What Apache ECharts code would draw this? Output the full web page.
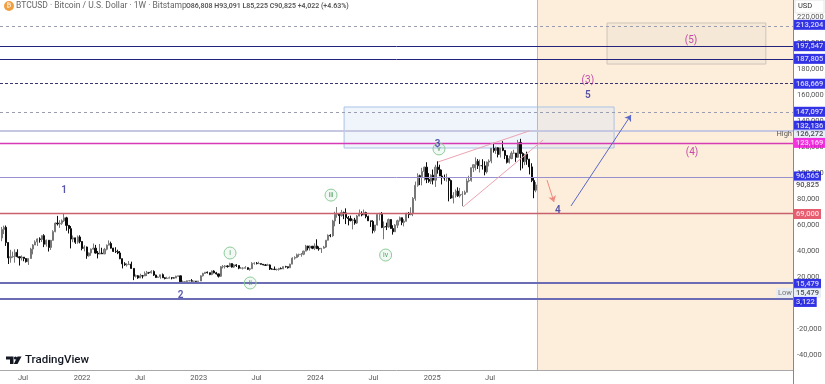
<!DOCTYPE html>
<html>
<head>
<meta charset="utf-8">
<title>BTCUSD</title>
<script src="https://cdn.jsdelivr.net/npm/echarts@6/dist/echarts.min.js"></script>
<style>
  html, body { margin: 0; padding: 0; background: #fff; }
  #main { width: 825px; height: 384px; }
</style>
</head>
<body>
<div id="main"></div>
<script>
// weekly bars, values in thousands of USD, first bar is the week of 2021-04-12
const firstWeek = '2021-04-12';
const opens = [
  60.0,60.0,50.0,56.6,58.2,46.5,34.7,35.6,35.8,39.0,35.6,34.7,35.3,34.2,31.8,34.2,41.5,44.6,47.0,49.3,48.9,51.8,45.2,48.3,42.7,48.2,54.9,61.5,60.9,61.3,63.2,65.5,59.7,57.2,49.2,50.1,46.8,50.8,
  47.3,41.9,43.1,36.3,38.5,41.4,42.2,38.4,37.7,38.4,37.8,41.3,44.5,45.8,42.2,39.7,39.5,38.5,34.1,30.1,29.4,29.5,29.9,26.6,20.6,21.0,19.3,20.9,20.8,22.6,23.6,23.2,24.3,21.5,19.6,20.0,21.8,19.4,18.8,19.1,19.4,19.3,19.2,20.6,20.9,16.3,16.3,16.4,17.1,17.1,16.8,16.8,
  16.6,16.9,20.9,22.7,23.7,23.3,21.9,24.6,23.2,22.4,20.6,27.9,28.0,28.5,28.0,30.3,27.6,29.3,28.8,26.8,26.8,26.8,27.2,25.9,26.3,30.5,30.6,30.3,30.3,29.8,29.3,29.0,29.3,26.1,26.0,25.8,25.8,26.5,26.3,28.0,27.9,27.1,29.9,34.5,35.0,37.1,37.4,37.5,39.9,43.8,42.3,43.7,
  42.1,43.9,41.8,41.6,42.1,43.0,48.3,52.1,51.7,63.1,68.3,68.4,67.2,69.6,69.3,65.7,64.9,63.4,63.9,61.5,66.9,68.5,67.7,69.6,66.6,63.2,62.7,55.8,60.0,68.1,68.2,58.1,58.8,58.5,64.2,57.3,54.8,59.9,63.3,65.6,62.0,62.9,69.0,68.0,68.8,80.4,90.5,97.9,97.2,101.2,104.5,95.2,93.7,
  98.3,94.5,104.5,102.6,97.7,96.5,96.1,96.3,94.2,80.7,82.6,86.1,82.4,83.5,83.7,85.2,93.8,94.3,104.1,106.4,109.0,105.6,105.7,105.5,100.9,108.4,109.2,119.0,117.3,119.4,114.2,119.3,117.4,113.5,108.2,111.1,115.3,115.3,112.1,123.5,115.0,108.7,114.5,110.6,104.7,94.3,86.8
];
const highs = [
  64.8,61.0,58.5,59.5,59.6,46.7,40.9,39.5,41.3,41.3,35.7,36.6,35.3,34.6,34.5,42.5,45.3,48.2,49.7,50.5,52.0,52.9,48.8,48.3,48.5,56.0,62.0,67.0,63.7,64.3,69.0,66.3,59.9,59.2,51.9,50.2,51.9,52.1,
  47.5,44.4,43.4,38.9,41.9,45.8,44.7,40.0,45.4,42.5,42.4,45.0,48.2,47.2,42.4,42.9,41.0,40.0,34.2,31.4,30.6,32.3,31.8,26.8,21.9,21.5,22.5,21.6,24.2,24.7,23.6,25.2,25.1,21.8,20.6,21.8,22.7,19.9,20.2,20.4,19.9,19.7,21.0,21.0,21.0,17.2,16.9,17.3,17.4,18.4,17.0,16.9,
  17.0,21.3,23.3,23.8,24.2,23.4,25.0,25.2,23.9,22.6,28.4,29.2,29.2,29.0,31.0,30.5,30.0,29.9,29.0,27.7,27.5,28.4,27.4,26.8,31.4,31.3,31.5,31.8,30.4,30.0,30.0,30.2,29.7,26.8,28.1,26.4,27.0,27.4,28.1,28.6,28.0,30.2,35.2,35.9,38.0,37.9,38.4,40.2,44.7,44.0,44.3,43.8,
  45.9,49.0,43.5,42.2,43.9,48.3,52.8,52.9,64.0,70.2,73.8,68.9,71.6,70.3,72.8,66.9,67.2,64.7,65.5,67.7,71.9,70.5,71.9,70.2,67.2,63.3,63.7,60.0,68.4,69.4,70.0,62.7,61.8,65.0,64.5,59.8,60.7,64.1,66.5,65.7,64.5,69.4,70.0,73.6,81.5,93.4,99.8,98.7,104.0,105.0,108.3,99.9,99.0,
  102.7,106.3,109.0,106.4,102.5,98.8,99.5,96.5,95.0,85.3,87.4,89.0,88.5,86.0,86.5,95.8,97.9,104.1,106.4,112.0,110.7,110.4,110.6,109.0,108.8,110.5,119.0,123.2,120.2,119.8,119.3,124.5,117.6,113.6,113.4,116.7,117.9,115.4,125.5,126.3,115.9,114.5,116.4,110.9,107.5,96.6,93.1
];
const lows = [
  59.0,47.0,47.5,53.0,43.9,30.0,31.0,34.8,31.0,35.0,28.8,32.7,32.1,31.1,29.3,34.2,37.4,44.6,43.9,46.4,46.9,43.0,43.4,39.6,40.8,48.0,54.4,59.6,57.8,60.1,62.3,55.6,53.5,42.0,46.8,45.5,45.6,45.9,
  40.5,39.7,34.0,35.6,36.3,41.2,38.0,34.3,37.4,37.8,37.6,40.5,44.4,41.9,39.2,38.5,37.6,33.7,26.6,28.6,28.0,29.3,26.9,17.6,19.6,18.6,19.1,18.9,20.7,20.7,22.4,22.7,20.8,19.8,19.6,18.6,19.4,18.2,18.5,19.0,18.2,18.9,19.2,20.1,15.6,16.3,15.5,16.0,16.7,16.5,16.4,16.3,
  16.5,16.9,20.4,22.3,22.7,21.4,21.4,22.8,21.9,19.6,20.0,26.6,26.5,27.2,28.0,27.2,27.0,27.7,26.0,26.4,25.8,26.5,25.4,24.8,26.3,29.5,29.7,30.0,29.5,29.0,28.6,28.7,25.4,25.8,25.3,24.9,24.9,26.0,26.0,27.2,26.5,27.1,29.9,33.4,34.5,35.5,35.6,36.8,39.9,40.5,40.3,41.4,
  40.7,41.5,40.2,38.5,41.9,42.3,48.1,50.6,50.9,59.0,65.6,60.8,66.4,64.5,60.7,59.7,62.8,56.6,60.2,60.8,66.7,66.7,67.6,65.2,63.2,58.5,53.5,54.3,59.6,63.5,57.6,49.0,56.1,57.9,57.2,52.6,54.6,57.6,62.7,59.9,58.9,62.6,65.3,67.5,66.8,78.7,89.4,90.7,90.5,94.2,92.2,92.5,91.5,
  91.2,89.3,99.5,97.7,91.2,94.1,93.4,78.2,80.0,76.6,81.1,81.6,81.1,74.5,83.1,85.1,92.8,93.3,100.7,102.0,103.1,100.4,102.6,98.2,99.6,105.1,107.5,115.7,114.7,112.0,111.9,116.8,110.7,107.3,107.3,110.6,114.8,108.6,111.6,102.0,103.5,106.0,106.3,98.9,93.0,80.6,85.2
];
const closes = [
  60.0,50.0,56.6,58.2,46.5,34.7,35.6,35.8,39.0,35.6,34.7,35.3,34.2,31.8,34.2,41.5,44.6,47.0,49.3,48.9,51.8,45.2,48.3,42.7,48.2,54.9,61.5,60.9,61.3,63.2,65.5,59.7,57.2,49.2,50.1,46.8,50.8,47.3,
  41.9,43.1,36.3,38.5,41.4,42.2,38.4,37.7,38.4,37.8,41.3,44.5,45.8,42.2,39.7,39.5,38.5,34.1,30.1,29.4,29.5,29.9,26.6,20.6,21.0,19.3,20.9,20.8,22.6,23.6,23.2,24.3,21.5,19.6,20.0,21.8,19.4,18.8,19.1,19.4,19.3,19.2,20.6,20.9,16.3,16.3,16.4,17.1,17.1,16.8,16.8,16.6,
  16.9,20.9,22.7,23.7,23.3,21.9,24.6,23.2,22.4,20.6,27.9,28.0,28.5,28.0,30.3,27.6,29.3,28.8,26.8,26.8,26.8,27.2,25.9,26.3,30.5,30.6,30.3,30.3,29.8,29.3,29.0,29.3,26.1,26.0,25.8,25.8,26.5,26.3,28.0,27.9,27.1,29.9,34.5,35.0,37.1,37.4,37.5,39.9,43.8,42.3,43.7,42.1,
  43.9,41.8,41.6,42.1,43.0,48.3,52.1,51.7,63.1,68.3,68.4,67.2,69.6,69.3,65.7,64.9,63.4,63.9,61.5,66.9,68.5,67.7,69.6,66.6,63.2,62.7,55.8,60.0,68.1,68.2,58.1,58.8,58.5,64.2,57.3,54.8,59.9,63.3,65.6,62.0,62.9,69.0,68.0,68.8,80.4,90.5,97.9,97.2,101.2,104.5,95.2,93.7,98.3,
  94.5,104.5,102.6,97.7,96.5,96.1,96.3,94.2,80.7,82.6,86.1,82.4,83.5,83.7,85.2,93.8,94.3,104.1,106.4,109.0,105.6,105.7,105.5,100.9,108.4,109.2,119.0,117.3,119.4,114.2,119.3,117.4,113.5,108.2,111.1,115.3,115.3,112.1,123.5,115.0,108.7,114.5,110.6,104.7,94.3,86.8,90.8
];

// drawn price levels
const navyLevels = [197547, 187805];
const darkDashLevels = [168669];
const lightDashLevels = [213204, 147097];
const paleLevels = [132136];
const magentaLevels = [123169];
const lilacLevels = [96565];
const redLevels = [69000];
const blueLevels = [15479, 3122];

// price tags on the right scale
const tagValues = [213204, 197547, 187805, 168669, 147097, 132136, 126272, 123169, 96565, 90825, 69000, 15479, 15479, 3122];
const tagKinds = ['blue', 'blue', 'blue', 'blue', 'blue', 'blue', 'pale', 'pink', 'blue', 'last', 'red', 'blue', 'pale', 'blue'];

// axis ticks
const priceTicks = [220000, 200000, 180000, 160000, 140000, 120000, 100000, 80000, 60000, 40000, 20000, 0, -20000, -40000];
const timeTickDates = ['2021-07-02', '2022-01-03', '2022-07-03', '2023-01-03', '2023-07-03', '2024-01-03', '2024-07-03', '2025-01-03', '2025-07-03'];
const timeTickLabels = ['Jul', '2022', 'Jul', '2023', 'Jul', '2024', 'Jul', '2025', 'Jul'];

// elliott wave labels
const waveLabels = ['1', '2', '3', '4', '5'];
const waveDates = ['2021-11-08', '2022-11-07', '2025-01-20', '2026-01-31', '2026-05-05'];
const wavePrices = [86900, 6150, 122300, 70800, 160000];
const bigWaveLabels = ['(3)', '(4)', '(5)'];
const bigWaveDates = ['2026-05-05', '2027-03-27', '2027-03-24'];
const bigWavePrices = [171500, 116000, 202300];
const minorLabels = ['i', 'ii', 'iii', 'iv', 'v'];
const minorDates = ['2023-04-11', '2023-06-13', '2024-02-21', '2024-08-10', '2025-01-24'];
const minorPrices = [38460, 15400, 83000, 36900, 118500];

// zones and trend lines: [date, price]
const forecastStart = '2025-11-27';
const targetBoxA = [['2024-04-02', 150770], ['2026-07-26', 119230]];
const targetBoxB = [['2026-07-04', 215400], ['2027-11-13', 183800]];
const wedgeTop = [['2025-01-21', 108460], ['2025-11-02', 132300]];
const wedgeBottom = [['2025-04-09', 73850], ['2025-12-16', 125400]];
const arrowDown = [['2025-12-28', 94600], ['2026-01-19', 77700]];
const arrowUp = [['2026-03-13', 74600], ['2026-09-17', 144600]];

function ms(d) { return +new Date(d); }
function pt(p) { return [ms(p[0]), p[1]]; }

const xMin = ms('2021-04-21');
const xMax = ms('2028-02-06');
const yMin = -51538;
const yMax = 233077;

const weekMs = 7 * 24 * 3600 * 1000;
const startMs = ms(firstWeek);
const candles = closes.map(function (c, i) {
  return [startMs + i * weekMs, opens[i] * 1000, c * 1000, lows[i] * 1000, highs[i] * 1000];
});
const timeTickMs = timeTickDates.map(ms);

const numFont = 'Roboto, "Liberation Sans", sans-serif';

function levelSeries(name, values, color, width, type) {
  return {
    name: name,
    type: 'line',
    data: [],
    z: 3,
    silent: true,
    markLine: {
      silent: true,
      animation: false,
      symbol: 'none',
      label: { show: false },
      data: values.map(function (v) {
        return { yAxis: v, lineStyle: { color: color, width: width, type: type } };
      })
    }
  };
}

function trendLine(pts, color, arrow) {
  return [
    { coord: pt(pts[0]), symbol: 'none', lineStyle: { color: color, width: 1, type: 'solid' } },
    { coord: pt(pts[1]), symbol: arrow ? 'arrow' : 'none', symbolSize: 6 }
  ];
}

const tagStyles = {
  blue: { backgroundColor: '#0000e0', color: '#fff' },
  pink: { backgroundColor: '#f000d8', color: '#fff' },
  red: { backgroundColor: '#e0344c', color: '#fff' },
  pale: { backgroundColor: '#e4ebf7', color: '#222' },
  last: { backgroundColor: '#fff', color: '#222' }
};
const tagOffsets = [-1, 0, 0, 0, 0, -5.5, -4.3, 0, -1, 0.6, 0.7, 1, 10, 3];

const option = {
  animation: false,
  grid: { left: 0, top: 0, width: 793, height: 370, containLabel: false, outerBoundsMode: 'none' },
  xAxis: {
    type: 'value',
    min: xMin,
    max: xMax,
    scale: true,
    splitLine: { show: false },
    axisLine: { show: true, onZero: false, lineStyle: { color: '#a8a8a8' } },
    axisTick: { show: false },
    axisLabel: {
      customValues: timeTickMs,
      color: '#555',
      fontSize: 7.5,
      fontFamily: numFont,
      margin: 4,
      formatter: function (v) { return timeTickLabels[timeTickMs.indexOf(v)] || ''; }
    }
  },
  yAxis: {
    type: 'value',
    position: 'right',
    min: yMin,
    max: yMax,
    scale: true,
    splitLine: { show: false },
    axisLine: { show: true, onZero: false, lineStyle: { color: '#888' } },
    axisTick: { show: false },
    axisLabel: {
      customValues: priceTicks,
      color: '#555',
      fontSize: 7.5,
      fontFamily: numFont,
      margin: 4,
      formatter: function (v) { return v.toLocaleString('en-US'); }
    }
  },
  series: [
    {
      name: 'zones',
      type: 'line',
      data: [],
      z: 1,
      silent: true,
      markArea: {
        silent: true,
        animation: false,
        data: [
          [
            { xAxis: ms(forecastStart), yAxis: yMin, itemStyle: { color: '#fdeedb', borderWidth: 0 } },
            { xAxis: xMax, yAxis: yMax }
          ],
          [
            { coord: pt(targetBoxA[0]), itemStyle: { color: 'rgba(214,228,248,0.36)', borderColor: '#a9c3e6', borderWidth: 1 } },
            { coord: pt(targetBoxA[1]) }
          ],
          [
            { coord: pt(targetBoxB[0]), itemStyle: { color: 'rgba(150,160,180,0.08)', borderColor: '#cfc4b8', borderWidth: 1 } },
            { coord: pt(targetBoxB[1]) }
          ]
        ]
      }
    },
    {
      name: 'forecast edge',
      type: 'line',
      data: [],
      z: 1,
      silent: true,
      markLine: {
        silent: true,
        animation: false,
        symbol: 'none',
        label: { show: false },
        lineStyle: { color: '#f0b060', width: 1, type: 'solid' },
        data: [{ xAxis: ms(forecastStart) }]
      }
    },
    {
      name: 'BTCUSD',
      type: 'candlestick',
      barWidth: 1.6,
      z: 2,
      itemStyle: {
        color: '#8e8e8e',
        borderColor: '#777',
        color0: '#0c0c0c',
        borderColor0: '#0c0c0c',
        borderWidth: 1
      },
      data: candles
    },
    levelSeries('level a', navyLevels, '#23237e', 1, 'solid'),
    levelSeries('level b', darkDashLevels, '#3a3470', 1, [3, 2]),
    levelSeries('level c', lightDashLevels, '#9a9cb0', 1, [3, 3]),
    levelSeries('level d', paleLevels, '#c6c8e2', 2, 'solid'),
    levelSeries('level e', magentaLevels, '#d63ab4', 1.3, 'solid'),
    levelSeries('level f', lilacLevels, '#9a90d0', 1, 'solid'),
    levelSeries('level g', redLevels, '#c8606e', 1.3, 'solid'),
    levelSeries('level h', blueLevels, '#6c6cb4', 2, 'solid'),
    {
      name: 'trend lines',
      type: 'line',
      data: [],
      z: 4,
      silent: true,
      markLine: {
        silent: true,
        animation: false,
        label: { show: false },
        data: [
          trendLine(wedgeTop, '#eaa3b0', false),
          trendLine(wedgeBottom, '#eaa3b0', false),
          trendLine(arrowDown, '#ee8a80', true),
          trendLine(arrowUp, '#5a68cc', true)
        ]
      }
    },
    {
      name: 'waves',
      type: 'scatter',
      symbolSize: 0,
      z: 5,
      silent: true,
      label: {
        show: true,
        position: 'inside',
        color: '#2a2a9a',
        fontSize: 10,
        fontWeight: 600,
        fontFamily: numFont,
        formatter: function (p) { return waveLabels[p.dataIndex]; }
      },
      data: waveDates.map(function (d, i) { return [ms(d), wavePrices[i]]; })
    },
    {
      name: 'big waves',
      type: 'scatter',
      symbolSize: 0,
      z: 5,
      silent: true,
      label: {
        show: true,
        position: 'inside',
        color: '#b8209c',
        fontSize: 10,
        fontFamily: numFont,
        formatter: function (p) { return bigWaveLabels[p.dataIndex]; }
      },
      data: bigWaveDates.map(function (d, i) { return [ms(d), bigWavePrices[i]]; })
    },
    {
      name: 'minor waves',
      type: 'scatter',
      symbolSize: 12,
      z: 5,
      silent: true,
      itemStyle: { color: 'rgba(90,180,110,0.08)', borderColor: '#8ccb98', borderWidth: 1, opacity: 1 },
      label: {
        show: true,
        position: 'inside',
        color: '#4d9f60',
        fontSize: 7,
        fontFamily: numFont,
        formatter: function (p) { return minorLabels[p.dataIndex]; }
      },
      data: minorDates.map(function (d, i) { return [ms(d), minorPrices[i]]; })
    },
    {
      name: 'price tags',
      type: 'scatter',
      symbolSize: 0,
      z: 6,
      silent: true,
      clip: false,
      data: tagValues.map(function (v, i) {
        return {
          value: [xMax, v],
          label: Object.assign({
            show: true,
            position: 'right',
            distance: 1,
            offset: [0, tagOffsets[i]],
            padding: [1, 2, 1, 2],
            fontSize: 7.5,
            fontWeight: 500,
            fontFamily: numFont,
            formatter: v.toLocaleString('en-US')
          }, tagStyles[tagKinds[i]])
        };
      })
    },
    {
      name: 'high low',
      type: 'scatter',
      symbolSize: 0,
      z: 6,
      silent: true,
      clip: false,
      data: [
        {
          value: [xMax, 126272],
          label: {
            show: true, position: 'left', distance: 0, offset: [0, -4.3],
            formatter: 'High', fontSize: 7.5, fontFamily: numFont, color: '#333', padding: [1, 1, 1, 2]
          }
        },
        {
          value: [xMax, 15479],
          label: {
            show: true, position: 'left', distance: 0, offset: [0, 10],
            formatter: 'Low', fontSize: 7.5, fontFamily: numFont, color: '#555',
            backgroundColor: '#e4ebf7', padding: [1, 1, 1, 2]
          }
        }
      ]
    }
  ],
  graphic: [
    { type: 'line', z: 10, silent: true, shape: { x1: 793.5, y1: 370, x2: 793.5, y2: 384 }, style: { stroke: '#888' } },
    { type: 'rect', z: 10, silent: true, shape: { x: 795, y: 0, width: 29, height: 13 }, style: { fill: '#fff', stroke: '#e6e6e6' } },
    { type: 'text', z: 11, silent: true, style: { x: 798, y: 2.5, text: 'USD', fontSize: 7.5, fontFamily: numFont, fill: '#333' } },
    // header
    { type: 'circle', z: 10, silent: true, shape: { cx: 9, cy: 6, r: 5 }, style: { fill: '#f0a040' } },
    { type: 'text', z: 11, silent: true, style: { x: 6.5, y: 2, text: '₿', fontSize: 7, fontFamily: 'DejaVu Sans', fill: '#fff' } },
    { type: 'text', z: 11, silent: true, style: { x: 16, y: 1.5, text: 'BTCUSD · Bitcoin / U.S. Dollar · 1W · Bitstamp', fontSize: 8.5, fontFamily: numFont, fill: '#666' } },
    { type: 'text', z: 11, silent: true, style: { x: 186, y: 2.5, text: 'O86,808 H93,091 L85,225 C90,825 +4,022 (+4.63%)', fontSize: 7, fontWeight: 600, fontFamily: numFont, fill: '#555' } },
    // logo
    { type: 'polygon', z: 10, silent: true, shape: { points: [[6, 356.5], [13.5, 356.5], [13.5, 364], [10, 364], [10, 359.5], [6, 359.5]] }, style: { fill: '#131722' } },
    { type: 'circle', z: 10, silent: true, shape: { cx: 15.5, cy: 358, r: 1.6 }, style: { fill: '#131722' } },
    { type: 'polygon', z: 10, silent: true, shape: { points: [[17.5, 356.5], [21.5, 356.5], [17.5, 364], [13.8, 364]] }, style: { fill: '#131722' } },
    { type: 'text', z: 11, silent: true, style: { x: 25, y: 354, text: 'TradingView', fontSize: 11.5, fontWeight: 500, fontFamily: numFont, fill: '#131722' } }
  ]
};

const chart = echarts.init(document.getElementById('main'));
chart.setOption(option);
</script>
</body>
</html>
